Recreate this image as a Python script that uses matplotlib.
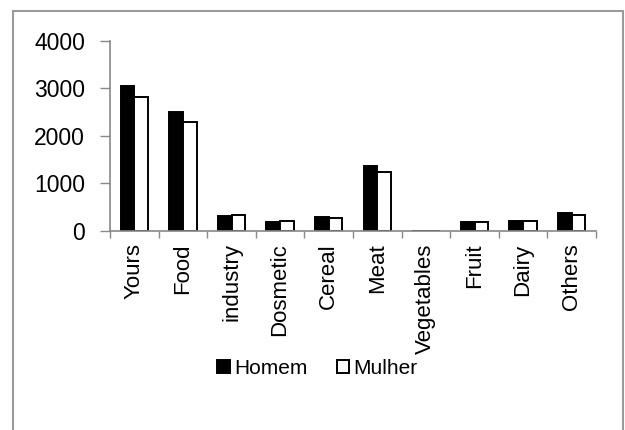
import matplotlib
matplotlib.use("Agg")
import matplotlib.pyplot as plt
import numpy as np
from matplotlib.patches import Rectangle

plt.rcParams['font.family'] = ['Liberation Sans', 'DejaVu Sans']

categories = ['Yours', 'Food', 'industry', 'Dosmetic', 'Cereal', 'Meat',
              'Vegetables', 'Fruit', 'Dairy', 'Others']
homem = [3050, 2510, 315, 195, 295, 1360, 8, 195, 215, 380]
mulher = [2830, 2290, 330, 210, 275, 1240, 10, 185, 210, 345]
yticks = [0, 1000, 2000, 3000, 4000]

fig = plt.figure(figsize=(6.25, 4.3), dpi=100)
ax = fig.add_axes([0.176, 0.4628, 0.7776, 0.4419])

x = np.arange(len(categories))
w = 0.28
ax.bar(x - w / 2, homem, w, color='black', edgecolor='black', linewidth=1.4, label='Homem')
ax.bar(x + w / 2, mulher, w, color='white', edgecolor='black', linewidth=1.4, label='Mulher')

ax.set_xlim(-0.5, len(categories) - 0.5)
ax.set_ylim(0, 4000)
ax.set_yticks(yticks)
ax.set_yticklabels([str(v) for v in yticks], fontsize=16.5)
ax.set_xticks(x)
ax.set_xticklabels(categories, rotation=90, fontsize=16)
ax.set_xticks(np.arange(-0.5, len(categories)), minor=True)
ax.tick_params(axis='x', which='major', length=0, pad=9)
ax.tick_params(axis='x', which='minor', length=5, color='#888888', width=1)
ax.tick_params(axis='y', length=7, color='#888888', width=1, pad=11)

for s in ['top', 'right']:
    ax.spines[s].set_visible(False)
for s in ['left', 'bottom']:
    ax.spines[s].set_color('#888888')
    ax.spines[s].set_linewidth(1.2)

fig.legend(loc='center', bbox_to_anchor=(0.508, 0.143), ncol=2, frameon=False,
           fontsize=15, handlelength=0.6, handleheight=0.6, handletextpad=0.2,
           columnspacing=1.4)

# outer chart frame
fig.patches.append(Rectangle((13 / 625, -0.1), 610 / 625, 1.1 - 11 / 430,
                             transform=fig.transFigure, fill=False,
                             edgecolor='#9a9a9a', linewidth=1.5))

fig.savefig('out.png', dpi=100)
